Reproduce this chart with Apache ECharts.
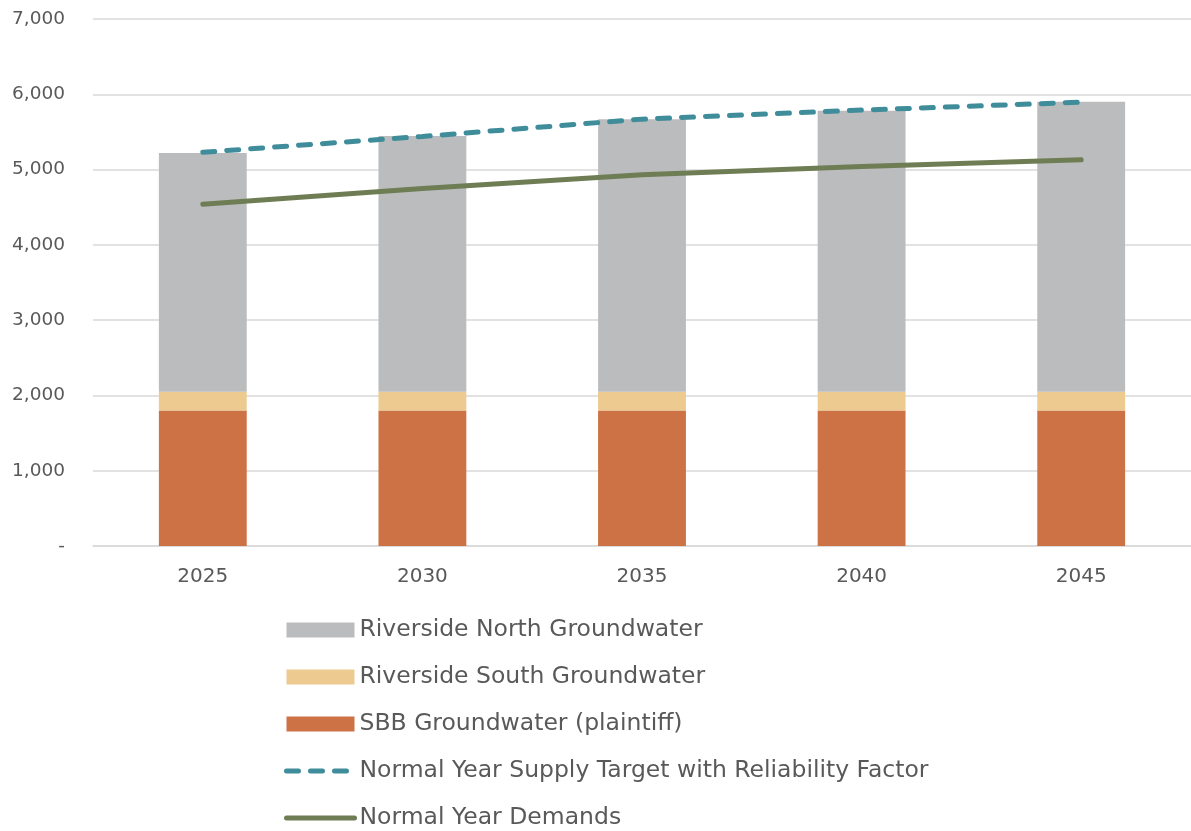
<!DOCTYPE html>
<html lang="en">
<head>
    <meta charset="UTF-8">
    <title>Water Supply</title>
    <script type="text/javascript" src="https://cdn.jsdelivr.net/npm/echarts@6/dist/echarts.min.js"></script>
    <style>
        html, body { margin: 0; padding: 0; background: #fff; }
    </style>
</head>
<body>
    <div id="main" style="width: 1191px; height: 831px"></div>
    <script type="text/javascript">
        var years = ['2025', '2030', '2035', '2040', '2045'];
        var sbbGroundwater = [1800, 1800, 1800, 1800, 1800];
        var southGroundwater = [250, 250, 250, 250, 250];
        var northGroundwater = [3170, 3395, 3620, 3730, 3850];
        var supplyTarget = [5230, 5440, 5670, 5790, 5895];
        var demands = [4540, 4750, 4930, 5040, 5130];

        var textColor = '#595959';
        var font = '"DejaVu Sans", sans-serif';

        var myChart = echarts.init(document.getElementById('main'));

        myChart.setOption({
            animation: false,
            grid: {
                left: 93,
                top: 19,
                width: 1106,
                height: 527
            },
            legend: {
                orient: 'vertical',
                left: 284,
                top: 618,
                height: 240,
                padding: 0,
                itemWidth: 68,
                itemHeight: 15,
                itemGap: 23,
                textStyle: {
                    color: textColor,
                    fontFamily: font,
                    fontSize: 23.5
                },
                data: [
                    { name: 'Riverside North Groundwater', icon: 'rect' },
                    { name: 'Riverside South Groundwater', icon: 'rect' },
                    { name: 'SBB Groundwater (plaintiff)', icon: 'rect' },
                    {
                        name: 'Normal Year Supply Target with Reliability Factor',
                        itemStyle: { opacity: 0 },
                        lineStyle: { width: 5, type: [12, 12], cap: 'round' }
                    },
                    {
                        name: 'Normal Year Demands',
                        itemStyle: { opacity: 0 },
                        lineStyle: { width: 5, cap: 'round' }
                    }
                ]
            },
            xAxis: {
                type: 'category',
                data: years,
                axisLine: {
                    lineStyle: { color: '#D9D9D9', width: 1.5 }
                },
                axisTick: { show: false },
                axisLabel: {
                    color: textColor,
                    fontFamily: font,
                    fontSize: 20,
                    margin: 21
                }
            },
            yAxis: {
                type: 'value',
                min: 0,
                max: 7000,
                interval: 1000,
                axisLine: { show: false },
                axisTick: { show: false },
                splitLine: {
                    lineStyle: { color: '#D9D9D9', width: 1.5 }
                },
                axisLabel: {
                    color: textColor,
                    fontFamily: font,
                    fontSize: 18.5,
                    margin: 28,
                    formatter: function (v) {
                        return v === 0 ? '-' : v.toLocaleString('en-US');
                    }
                }
            },
            series: [
                {
                    name: 'SBB Groundwater (plaintiff)',
                    type: 'bar',
                    stack: 'supply',
                    barWidth: '40%',
                    data: sbbGroundwater,
                    itemStyle: { color: '#CD7245' }
                },
                {
                    name: 'Riverside South Groundwater',
                    type: 'bar',
                    stack: 'supply',
                    data: southGroundwater,
                    itemStyle: { color: '#ECCA90' }
                },
                {
                    name: 'Riverside North Groundwater',
                    type: 'bar',
                    stack: 'supply',
                    data: northGroundwater,
                    itemStyle: { color: '#BBBCBE' }
                },
                {
                    name: 'Normal Year Supply Target with Reliability Factor',
                    type: 'line',
                    data: supplyTarget,
                    symbol: 'none',
                    lineStyle: {
                        color: '#3F8C9A',
                        width: 5,
                        type: [12, 12],
                        cap: 'round'
                    },
                    itemStyle: { color: '#3F8C9A' }
                },
                {
                    name: 'Normal Year Demands',
                    type: 'line',
                    data: demands,
                    symbol: 'none',
                    lineStyle: {
                        color: '#6F7D55',
                        width: 5,
                        cap: 'round'
                    },
                    itemStyle: { color: '#6F7D55' }
                }
            ]
        });
    </script>
</body>
</html>
